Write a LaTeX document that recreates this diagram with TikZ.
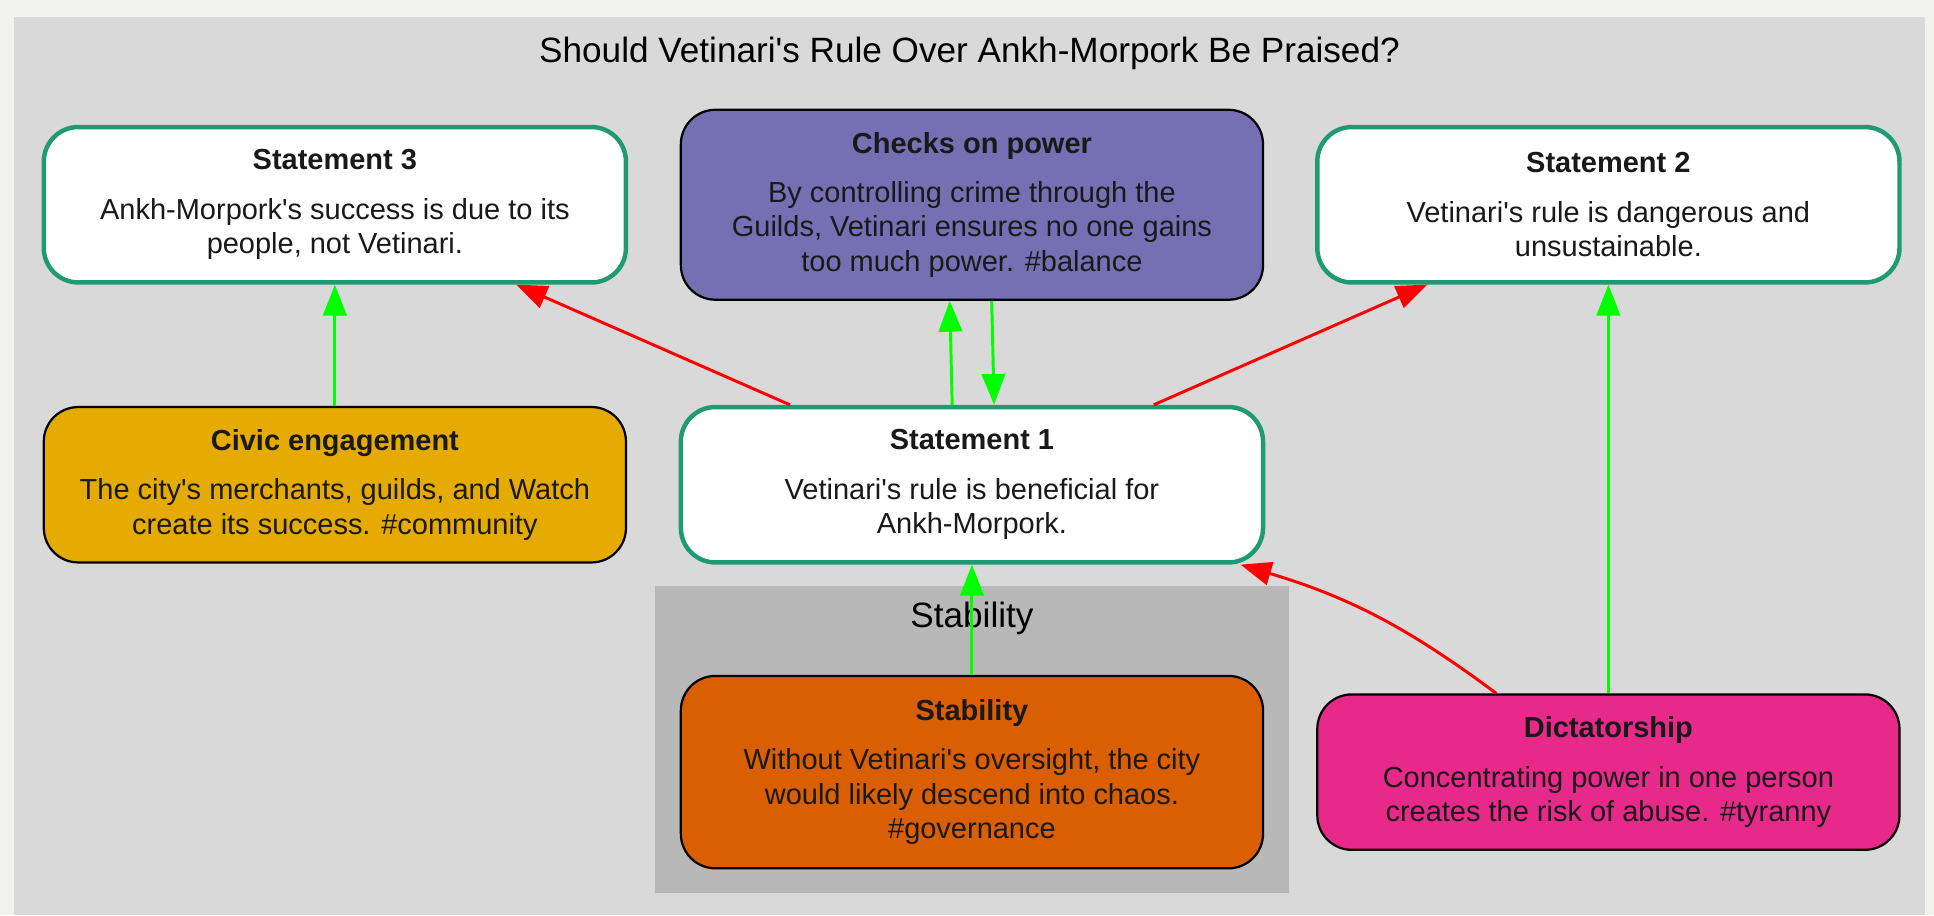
\documentclass[tikz,border=0pt]{standalone}
\usepackage{fontspec}
\setmainfont{Liberation Sans}
\usetikzlibrary{arrows.meta}
\definecolor{outerbg}{HTML}{F1F1EE}
\definecolor{panelbg}{HTML}{D9D9D9}
\definecolor{clusterbg}{HTML}{B8B8B8}
\definecolor{stgreen}{HTML}{1F9A72}
\definecolor{purplefill}{HTML}{7570B3}
\definecolor{goldfill}{HTML}{E6AB02}
\definecolor{orangefill}{HTML}{D95F02}
\definecolor{pinkfill}{HTML}{E7298A}
\definecolor{proline}{HTML}{00FF00}
\definecolor{conline}{HTML}{FF0000}
\newcommand{\bodyfont}{\fontsize{23.5}{28}\selectfont}
\newcommand{\ap}{\textquotesingle}
\tikzset{
  basebox/.style={rounded corners=28pt, minimum width=472pt, align=center, inner sep=0pt, font=\bodyfont, text=black!90},
  stmtbox/.style={basebox, draw=stgreen, line width=3.6pt, fill=white},
  argbox/.style={basebox, draw=black, line width=1.8pt},
  proedge/.style={draw=proline, line width=2.4pt, -{Triangle[length=25pt,width=19pt]}},
  conedge/.style={draw=conline, line width=2.4pt, -{Triangle[length=25pt,width=19pt]}},
}
\begin{document}
\begin{tikzpicture}[x=1pt,y=-1pt]
\useasboundingbox (0,0) rectangle (1568,742);
\fill[outerbg] (0,0) rectangle (1568,742);
\fill[panelbg] (11.5,14) rectangle (1561,742);
\fill[clusterbg] (531,475) rectangle (1045,724);
\node[font=\fontsize{28.5}{32}\selectfont] (title) at (786,43) {Should Vetinari\ap s Rule Over Ankh-Morpork Be Praised?};
\node[font=\fontsize{28.5}{32}\selectfont] (clabel) at (788,501) {Stability};

\node[stmtbox, minimum height=126pt] (s3) at (271.5,166) {{\bfseries Statement 3}\\[12pt]Ankh-Morpork\ap s success is due to its\\people, not Vetinari.};
\node[argbox, fill=purplefill, minimum height=154pt] (chk) at (788,166) {{\bfseries Checks on power}\\[12pt]By controlling crime through the\\Guilds, Vetinari ensures no one gains\\too much power. \#balance};
\node[stmtbox, minimum height=126pt] (s2) at (1304,166) {{\bfseries Statement 2}\\[12pt]Vetinari\ap s rule is dangerous and\\unsustainable.};
\node[argbox, fill=goldfill, minimum height=126pt] (civ) at (271.5,393) {{\bfseries Civic engagement}\\[12pt]The city\ap s merchants, guilds, and Watch\\create its success. \#community};
\node[stmtbox, minimum height=126pt] (s1) at (788,393) {{\bfseries Statement 1}\\[12pt]Vetinari\ap s rule is beneficial for\\Ankh-Morpork.};
\node[argbox, fill=orangefill, minimum height=156pt] (stab) at (788,626) {{\bfseries Stability}\\[12pt]Without Vetinari\ap s oversight, the city\\would likely descend into chaos.\\\#governance};
\node[argbox, fill=pinkfill, minimum height=126pt] (dict) at (1304,626) {{\bfseries Dictatorship}\\[12pt]Concentrating power in one person\\creates the risk of abuse. \#tyranny};

\draw[proedge] (civ) -- (s3);
\draw[conedge] (s1) -- (s3);
\draw[conedge] (s1) -- (s2);
\draw[proedge] ([xshift=-16pt]s1.north) -- ([xshift=-18pt]chk.south);
\draw[proedge] ([xshift=16pt]chk.south) -- ([xshift=18pt]s1.north);
\draw[proedge] (stab) -- (s1);
\draw[proedge] (dict) -- (s2);
\draw[conedge] ([xshift=-91pt]dict.north) to[bend right=10] ([xshift=-20pt]s1.south east);
\end{tikzpicture}
\end{document}
